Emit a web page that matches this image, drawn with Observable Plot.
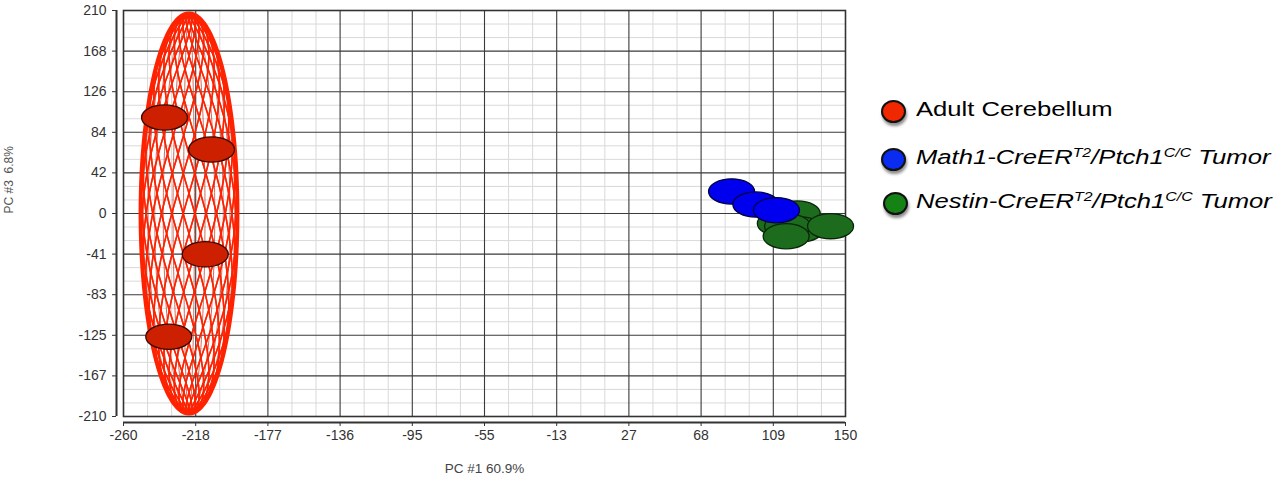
<!DOCTYPE html>
<html><head><meta charset="utf-8">
<script src="https://cdn.jsdelivr.net/npm/d3@7"></script>
<script src="https://cdn.jsdelivr.net/npm/@observablehq/plot@0.6"></script>
<style>
body{margin:0;background:#fff;font-family:Arial,"Liberation Sans",sans-serif;}
#wrap{position:relative;width:1279px;height:478px;overflow:hidden;}
#chart{position:absolute;left:0;top:0;}
.sw{position:absolute;width:21px;height:19px;border:2px solid #111;border-radius:50%;box-shadow:1px 3px 3px rgba(0,0,0,.45);}
.lab{position:absolute;left:916px;white-space:nowrap;font-size:20.5px;color:#000;transform:scaleX(1.25);transform-origin:0 0;line-height:1;}
.lab i sup{font-size:62%;vertical-align:0;position:relative;top:-0.55em;}
</style></head><body><div id="wrap"><div id="chart"></div><div id="legend"></div></div>
<script>
// ---- data ----
const xTicks = [-260,-219,-178,-137,-96,-55,-14,27,68,109,150];
const xTickLabels = ["-260","-218","-177","-136","-95","-55","-13","27","68","109","150"];
const yTicks = [210,168,126,84,42,0,-42,-84,-126,-168,-210];
const yTickLabels = ["210","168","126","84","42","0","-41","-83","-125","-167","-210"];
const xTitle = "PC #1 60.9%";
const yTitle = "PC #3  6.8%";

const seriesNames = ["Adult Cerebellum", "Math1-CreERT2/Ptch1C/C Tumor", "Nestin-CreERT2/Ptch1C/C Tumor"];
const adultX = [-236.7, -210.0, -213.6, -234.3];
const adultY = [99.3, 66.2, -42.2, -127.5];
const math1X = [85.3, 99.1, 110.8];
const math1Y = [22.8, 9.3, 3.4];
const nestinX = [113.0, 122.6, 124.4, 117.1, 116.3, 141.5];
const nestinY = [-10.3, 0.0, -16.5, -13.4, -23.5, -13.1];

// confidence ellipsoid of the adult cerebellum group
const ellipseCenter = [-222.8, 0];
const ellipseRadii = [27.5, 207];

const pointFill = ["#cc2000", "#0000ee", "#1d6b1d"];
const pointStroke = ["#3a0800", "#000040", "#0a250a"];
const legendFill = ["#f02800", "#0a2cf0", "#158215"];

// ---- build tables ----
const pts = (xs, ys, g) => xs.map((x, i) => ({x, y: ys[i], g}));
const adult = pts(adultX, adultY, 0);
const math1 = pts(math1X, math1Y, 1);
const nestin = pts(nestinX, nestinY, 2);

const minor = (t) => { const out = []; for (let i = 0; i < t.length - 1; i++) { const s = (t[i+1]-t[i])/3; out.push(t[i]+s, t[i]+2*s); } return out; };
const xMinor = minor(xTicks), yMinor = minor(yTicks);

// wireframe of the ellipsoid surface (two families of crossing helices + meridians)
const [cx, cy] = ellipseCenter, [rx, ry] = ellipseRadii;
const proj = (u, v) => ({x: cx + rx*Math.cos(v)*Math.cos(u), y: cy + ry*Math.sin(v)});
const mesh = [], merid = [];
const nHel = 26, twist = 1.2, nMer = 14;
for (let i = 0; i < nHel; i++) {
  const u0 = 2*Math.PI*i/nHel;
  for (const sgn of [1, -1]) for (let s = 0; s <= 120; s++) {
    const v = -Math.PI/2 + Math.PI*s/120;
    mesh.push({...proj(u0 + sgn*twist*v, v), id: `h${i}${sgn}`});
  }
}
for (let i = 0; i < nMer; i++) {
  const u = Math.PI*(i + 0.5)/nMer;
  for (let s = 0; s <= 60; s++) merid.push({...proj(u, -Math.PI/2 + Math.PI*s/60), id: "m"+i});
}
const outline = d3.range(0, 121).map(s => ({x: cx + rx*Math.cos(2*Math.PI*s/120), y: cy + ry*Math.sin(2*Math.PI*s/120)}));

const ellipseSymbol = {draw(ctx) { const a = 23, b = 12.6, k = 0.5523;
  ctx.moveTo(a, 0); ctx.bezierCurveTo(a, b*k, a*k, b, 0, b); ctx.bezierCurveTo(-a*k, b, -a, b*k, -a, 0);
  ctx.bezierCurveTo(-a, -b*k, -a*k, -b, 0, -b); ctx.bezierCurveTo(a*k, -b, a, -b*k, a, 0); ctx.closePath(); }};

const dots = (data, g) => Plot.dot(data, {x: "x", y: "y", symbol: ellipseSymbol, fill: pointFill[g], stroke: pointStroke[g], strokeWidth: 1.3, r: 10});

const chart = Plot.plot({
  width: 860, height: 478,
  marginLeft: 123, marginRight: 15, marginTop: 10, marginBottom: 62,
  x: {domain: [-260, 150]}, y: {domain: [-210, 210]},
  style: {fontFamily: "Arial, 'Liberation Sans', sans-serif", background: "transparent"},
  marks: [
    Plot.ruleX(xMinor, {stroke: "#d9d9d9", strokeWidth: 1}),
    Plot.ruleY(yMinor, {stroke: "#d9d9d9", strokeWidth: 1}),
    Plot.ruleX(xTicks.slice(1, -1), {stroke: "#3a3a3a", strokeWidth: 1.1}),
    Plot.ruleY(yTicks.slice(1, -1), {stroke: "#3a3a3a", strokeWidth: 1.1}),
    Plot.line(merid, {x: "x", y: "y", z: "id", stroke: "#c04a3a", strokeWidth: 1, strokeOpacity: 0.8}),
    Plot.line(mesh, {x: "x", y: "y", z: "id", stroke: "#ff2200", strokeWidth: 1.5, strokeOpacity: 0.95}),
    Plot.line(outline, {x: "x", y: "y", stroke: "#ff2200", strokeWidth: 4}),
    Plot.frame({stroke: "#333", strokeWidth: 1.6}),
    Plot.ruleX([-260], {y1: -210, y2: 210, dx: -7, stroke: "#333", strokeWidth: 2}),
    Plot.ruleY([-210], {x1: -260, x2: 150, dy: 6, stroke: "#333", strokeWidth: 2}),
    Plot.axisY({ticks: yTicks, tickSize: 4, dx: -7, tickFormat: () => "", label: null, stroke: "#333"}),
    Plot.axisX({ticks: xTicks, tickSize: 4, dy: 6, tickFormat: () => "", label: null, stroke: "#333"}),
    Plot.axisY({ticks: yTicks, tickSize: 0, tickPadding: 17, fontSize: 14, fill: "#333", label: null,
      tickFormat: d => yTickLabels[yTicks.indexOf(d)]}),
    Plot.axisX({ticks: xTicks, tickSize: 0, tickPadding: 14, fontSize: 14, fill: "#333", label: null,
      tickFormat: d => xTickLabels[xTicks.indexOf(d)]}),
    dots(adult, 0),
    dots(nestin, 2),
    dots(math1, 1),
    Plot.text([xTitle], {frameAnchor: "bottom", dy: 52, fontSize: 13.5, fill: "#444", lineAnchor: "middle"}),
    Plot.text([yTitle], {frameAnchor: "left", dx: -114, rotate: -90, fontSize: 12, fill: "#555", lineAnchor: "middle"})
  ]
});
document.getElementById("chart").appendChild(chart);

// legend
const lg = document.getElementById("legend");
const legendY = [111, 159, 203];
const labelsHtml = [
  "Adult Cerebellum",
  "<i>Math1-CreER<sup>T2</sup>/Ptch1<sup>C/C</sup> Tumor</i>",
  "<i>Nestin-CreER<sup>T2</sup>/Ptch1<sup>C/C</sup> Tumor</i>"
];
seriesNames.forEach((name, i) => {
  const sw = document.createElement("div");
  sw.className = "sw"; sw.style.background = legendFill[i];
  sw.style.left = (i === 2 ? 883 : 881) + "px"; sw.style.top = (legendY[i] - 11.5) + "px";
  lg.appendChild(sw);
  const t = document.createElement("div");
  t.className = "lab"; t.title = name; t.innerHTML = labelsHtml[i];
  t.style.top = (legendY[i] - 12) + "px";
  lg.appendChild(t);
});
</script></body></html>
